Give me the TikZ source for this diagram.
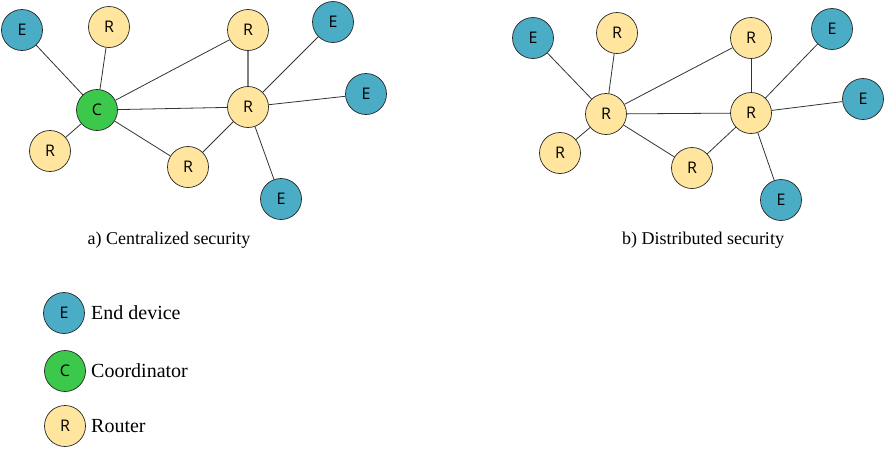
\documentclass[tikz,border=0pt]{standalone}
\usepackage{fontspec}
\setmainfont{Liberation Serif}
\newfontfamily\letterfont{Open Sans}
\definecolor{eblue}{HTML}{4BACC6}
\definecolor{ryellow}{HTML}{FFE59E}
\definecolor{cgreen}{HTML}{3CC84A}
\definecolor{edgegray}{HTML}{333333}
\begin{document}
\begin{tikzpicture}[x=1pt,y=-1pt,
  dev/.style={circle,draw=black!85,line width=0.7pt,minimum size=41pt,inner sep=0pt,font=\letterfont\fontsize{16}{16}\selectfont},
  enode/.style={dev,fill=eblue},
  rnode/.style={dev,fill=ryellow},
  cnode/.style={dev,fill=cgreen},
  link/.style={draw=edgegray,line width=0.8pt},
  caption/.style={font=\fontsize{18}{20}\selectfont},
  legtext/.style={font=\fontsize{20}{22}\selectfont,anchor=west,inner sep=0pt}]
\useasboundingbox (0,0) rectangle (884,448);
% left diagram
\node[enode] (la1) at (22,30) {E};
\node[rnode] (la2) at (109,27) {R};
\node[rnode] (la3) at (248,30) {R};
\node[enode] (la4) at (333,22) {E};
\node[enode] (la5) at (366,94) {E};
\node[cnode] (lc) at (97,110) {C};
\node[rnode] (lr) at (248,107) {R};
\node[rnode] (la6) at (50,151) {R};
\node[rnode] (la7) at (188,167) {R};
\node[enode] (la8) at (281,199) {E};
\draw[link] (la1) -- (lc);
\draw[link] (la2) -- (lc);
\draw[link] (la3) -- (lc);
\draw[link] (lc) -- (lr);
\draw[link] (lc) -- (la6);
\draw[link] (lc) -- (la7);
\draw[link,draw=gray,line width=1.1pt] (la3) -- (lr);
\draw[link] (la4) -- (lr);
\draw[link] (la5) -- (lr);
\draw[link] (la8) -- (lr);
\draw[link] (la7) -- (lr);
\node[caption] (lcap) at (169,240) {a) Centralized security};
% right diagram
\node[enode] (rb1) at (533,38) {E};
\node[rnode] (rb2) at (617,33) {R};
\node[rnode] (rb3) at (751,38) {R};
\node[enode] (rb4) at (832,29) {E};
\node[enode] (rb5) at (863,99) {E};
\node[rnode] (rl) at (606,114) {R};
\node[rnode] (rr) at (751,113) {R};
\node[rnode] (rb6) at (560,153) {R};
\node[rnode] (rb7) at (692,168) {R};
\node[enode] (rb8) at (781,200) {E};
\draw[link] (rb1) -- (rl);
\draw[link] (rb2) -- (rl);
\draw[link] (rb3) -- (rl);
\draw[link] (rl) -- (rr);
\draw[link] (rl) -- (rb6);
\draw[link] (rl) -- (rb7);
\draw[link] (rb3) -- (rr);
\draw[link] (rb4) -- (rr);
\draw[link] (rb5) -- (rr);
\draw[link] (rb8) -- (rr);
\draw[link] (rb7) -- (rr);
\node[caption] (rcap) at (703,240) {b) Distributed security};
% legend
\node[enode] (le) at (64,313) {E};
\node[cnode] (lgc) at (65,371) {C};
\node[rnode] (lgr) at (65,426) {R};
\node[legtext] (lte) at (91,313) {End device};
\node[legtext] (ltc) at (91,371) {Coordinator};
\node[legtext] (ltr) at (91,426) {Router};
\end{tikzpicture}
\end{document}
